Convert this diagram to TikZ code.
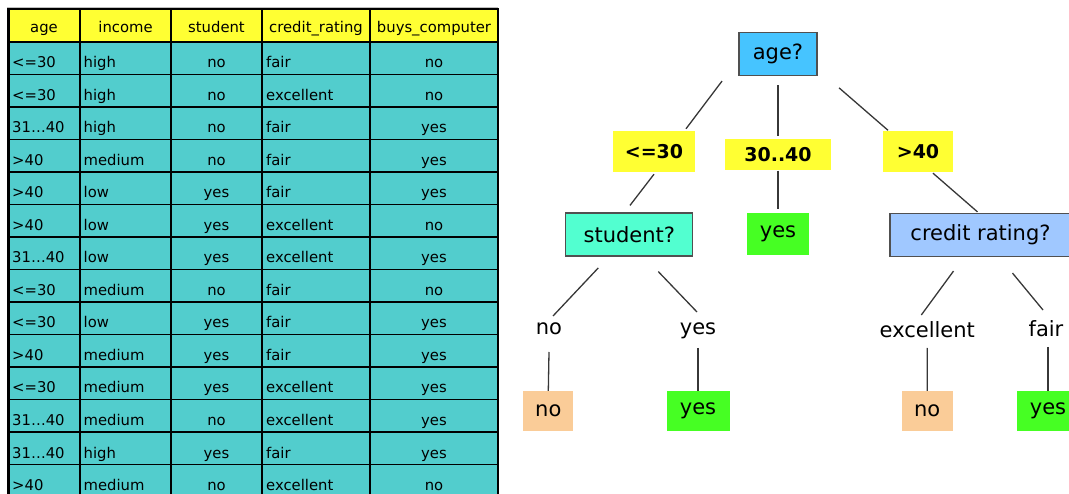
\documentclass[tikz,border=0pt]{standalone}
\usepackage{fontspec}
\setmainfont{DejaVu Sans}
\usetikzlibrary{calc}

\definecolor{cellcyan}{RGB}{82,205,205}
\definecolor{headyellow}{RGB}{255,255,51}
\definecolor{agecol}{RGB}{70,196,255}
\definecolor{studentcol}{RGB}{82,255,208}
\definecolor{creditcol}{RGB}{160,200,255}
\definecolor{yescol}{RGB}{70,255,35}
\definecolor{nocol}{RGB}{250,204,152}
\definecolor{boxgray}{RGB}{80,80,80}
\definecolor{linkgray}{RGB}{55,55,55}

\newcommand{\tabfont}{\fontsize{14.8}{17}\selectfont}
\newcommand{\treefont}{\fontsize{21}{25}\selectfont}

\tikzset{
  tabline/.style={line width=1.6pt},
  cell/.style={inner sep=0pt, font=\tabfont},
  testbox/.style={draw=boxgray, line width=1.2pt, inner sep=0pt, minimum height=43pt, font=\treefont},
  rangebox/.style={fill=headyellow, inner sep=0pt, minimum height=41pt, font=\fontsize{19}{23}\selectfont\bfseries},
  leafbox/.style={inner sep=0pt, minimum height=40pt, font=\treefont},
  answerlabel/.style={inner sep=0pt, anchor=base, font=\treefont},
  link/.style={draw=linkgray, line width=1.3pt}
}

\begin{document}
\begin{tikzpicture}[x=1pt,y=-1pt]
\useasboundingbox (0,0) rectangle (1069,494);

% training table
\fill[gray!50] (6.5,7) rectangle (498,497);
\fill[headyellow] (8.5,9) rectangle (498,42);
\fill[cellcyan] (8.5,42) rectangle (498,497);
\foreach \k in {0,...,14}
  \draw[tabline] (8.5,42+32.5*\k) -- (498,42+32.5*\k);
\foreach \x in {80,171,262,370}
  \draw[tabline] (\x,9) -- (\x,497);
\draw[tabline, line width=2.4pt] (8.5,497) -- (8.5,9) -- (498,9) -- (498,497);

\foreach \x/\t [count=\j] in {44/age, 125.5/income, 216.5/student, 316/credit\_rating, 434/buys\_computer}
  \node[cell, anchor=base] (h\j) at (\x,33) {\t};

\foreach \a/\b/\c/\d/\e [count=\i] in {
  <=30/high/no/fair/no,
  <=30/high/no/excellent/no,
  31…40/high/no/fair/yes,
  >40/medium/no/fair/yes,
  >40/low/yes/fair/yes,
  >40/low/yes/excellent/no,
  31…40/low/yes/excellent/yes,
  <=30/medium/no/fair/no,
  <=30/low/yes/fair/yes,
  >40/medium/yes/fair/yes,
  <=30/medium/yes/excellent/yes,
  31…40/medium/no/excellent/yes,
  31…40/high/yes/fair/yes,
  >40/medium/no/excellent/no}{
  \pgfmathsetmacro{\yb}{42+32.5*(\i-1)+26}
  \node[cell, anchor=base west] (a\i) at (12,\yb) {\a};
  \node[cell, anchor=base west] (b\i) at (83.5,\yb) {\b};
  \node[cell, anchor=base] (c\i) at (216.5,\yb) {\c};
  \node[cell, anchor=base west] (d\i) at (266,\yb) {\d};
  \node[cell, anchor=base] (e\i) at (434,\yb) {\e};
}

% decision tree
\node[testbox, fill=agecol, minimum width=78pt] (age) at (778,54) {age?};
\node[rangebox, minimum width=82pt] (le30) at (654,152) {<=30};
\node[rangebox, minimum width=106pt, minimum height=31pt] (mid) at (778,155) {30..40};
\node[rangebox, minimum width=70pt] (gt40) at (918,152) {>40};
\node[testbox, fill=studentcol, minimum width=127pt] (student) at (629.3,234.5) {student?};
\node[leafbox, fill=yescol, minimum width=62pt, minimum height=42pt] (yes1) at (778,234) {yes};
\node[testbox, fill=creditcol, minimum width=181pt] (credit) at (980.5,235) {credit rating?};

\node[answerlabel] (lno) at (549,335) {no};
\node[answerlabel] (lyes) at (698,335) {yes};
\node[answerlabel] (lexc) at (927.3,338) {excellent};
\node[answerlabel] (lfair) at (1046,337) {fair};

\node[leafbox, fill=nocol, minimum width=50pt] (no1) at (548.3,411) {no};
\node[leafbox, fill=yescol, minimum width=63pt] (yes2) at (698,411) {yes};
\node[leafbox, fill=nocol, minimum width=51pt] (no2) at (927.2,411) {no};
\node[leafbox, fill=yescol, minimum width=63pt] (yes3) at (1048,411) {yes};

\draw[link] ($(age.south)+(-56,5)$) -- ($(le30.north)+(32,-2.5)$);
\draw[link] ($(age.south)+(0,9)$) -- ($(mid.north)+(0,-3)$);
\draw[link] ($(age.south)+(61,11.7)$) -- ($(gt40.north)+(-30,-1)$);
\draw[link] ($(le30.south)+(0,1.5)$) -- ($(student.north)+(0.7,-7)$);
\draw[link] (mid.south) -- ($(yes1.north)+(0,-4)$);
\draw[link] ($(gt40.south)+(15,0.5)$) -- ($(credit.north)+(-3,-1)$);
\draw[link] ($(student.south)+(-31,11.3)$) -- ($(lno.base)+(4,-19)$);
\draw[link] ($(student.south)+(29,15)$) -- ($(lyes.base)+(-1,-23)$);
\draw[link] ($(lno.base)+(0,17)$) -- (no1.north);
\draw[link] ($(lyes.base)+(0,13)$) -- (yes2.north);
\draw[link] ($(credit.south)+(-27,14)$) -- ($(lexc.base)+(-6,-23)$);
\draw[link] ($(credit.south)+(32,16)$) -- ($(lfair.base)+(-3,-27)$);
\draw[link] ($(lexc.base)+(0,10)$) -- (no2.north);
\draw[link] ($(lfair.base)+(2,10)$) -- (yes3.north);
\end{tikzpicture}
\end{document}
